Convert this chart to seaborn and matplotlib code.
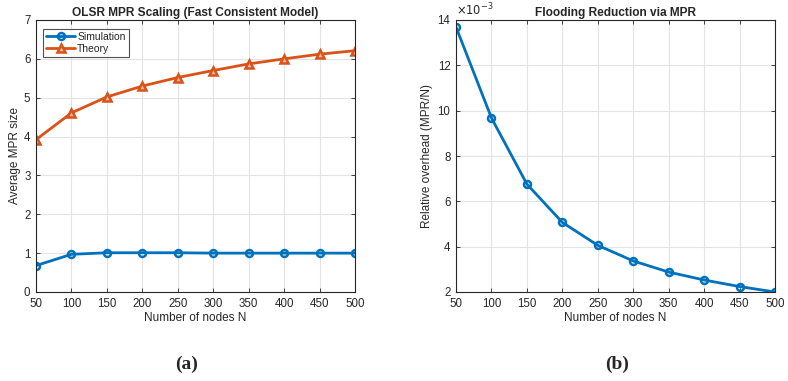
import matplotlib
matplotlib.use("Agg")
import matplotlib.pyplot as plt
import seaborn as sns

nodes = [50, 100, 150, 200, 250, 300, 350, 400, 450, 500]
simulation = [0.68, 0.97, 1.01, 1.01, 1.01, 1.00, 1.00, 1.00, 1.00, 1.00]
theory = [3.92, 4.61, 5.02, 5.30, 5.52, 5.70, 5.87, 6.00, 6.12, 6.21]
overhead = [13.69, 9.68, 6.76, 5.07, 4.06, 3.37, 2.88, 2.53, 2.24, 2.00]  # x1e-3

sns.set_theme(style="white")
plt.rcParams['font.family'] = ['Liberation Sans', 'DejaVu Sans']

blue = "#0072BD"
orange = "#D95319"
W, H = 788, 381
fig = plt.figure(figsize=(W / 100, H / 100), dpi=100)

def box(l, t, r, b):
    return [l / W, 1 - b / H, (r - l) / W, (b - t) / H]

ax1 = fig.add_axes(box(36, 20, 355, 292))
ax2 = fig.add_axes(box(456, 20, 775, 292))

sns.lineplot(x=nodes, y=simulation, marker="o", color=blue, linewidth=2,
             markersize=5, markeredgewidth=1.8, markerfacecolor="none",
             markeredgecolor=blue, label="Simulation", ax=ax1)
sns.lineplot(x=nodes, y=theory, marker="^", color=orange, linewidth=2,
             markersize=6, markeredgewidth=1.8, markerfacecolor="#f2b79e",
             markeredgecolor=orange, label="Theory", ax=ax1)

sns.lineplot(x=nodes, y=overhead, marker="o", color=blue, linewidth=2,
             markersize=5, markeredgewidth=1.8, markerfacecolor="none",
             markeredgecolor=blue, ax=ax2)

for ax in (ax1, ax2):
    ax.set_xlim(50, 500)
    ax.set_xticks(nodes)
    ax.grid(True, color="#e3e3e3", linewidth=0.8)
    for s in ax.spines.values():
        s.set_color("#262626")
        s.set_linewidth(0.8)
    ax.tick_params(axis="both", labelsize=8.3, colors="#262626", direction="in",
                   length=3, width=0.6, pad=4, left=True, bottom=True,
                   right=True, top=True)
    ax.tick_params(labelright=False, labeltop=False)
    ax.set_xlabel("Number of nodes N", fontsize=8.5, color="#262626", labelpad=2)

ax1.set_ylim(0, 7)
ax1.set_yticks(range(0, 8))
ax1.set_ylabel("Average MPR size", fontsize=8.5, color="#262626", labelpad=2)
ax1.set_title("OLSR MPR Scaling (Fast Consistent Model)", fontsize=8.6,
              fontweight="bold", pad=3)
leg = ax1.legend(loc="upper left", fontsize=7.5, frameon=True, fancybox=False,
                 edgecolor="#262626", borderpad=0.3, labelspacing=0.2,
                 handlelength=2.8, handletextpad=0.2,
                 bbox_to_anchor=(0.015, 0.975), borderaxespad=0.2)
leg.get_frame().set_linewidth(0.8)

ax2.set_ylim(2, 14)
ax2.set_yticks([2, 4, 6, 8, 10, 12, 14])
ax2.set_ylabel("Relative overhead (MPR/N)", fontsize=8.5, color="#262626", labelpad=3)
ax2.set_title("Flooding Reduction via MPR", fontsize=8.6, fontweight="bold", pad=3)
ax2.text(0.0, 1.005, r"$\times10^{-3}$", transform=ax2.transAxes, fontsize=8.3,
         color="#262626", ha="left", va="bottom")

fig.text(187 / W, 1 - 364 / H, "(a)", fontsize=14, fontweight="bold",
         family="Liberation Serif", ha="center", va="center")
fig.text(617 / W, 1 - 364 / H, "(b)", fontsize=14, fontweight="bold",
         family="Liberation Serif", ha="center", va="center")

fig.savefig("out.png", dpi=100, facecolor="white")
